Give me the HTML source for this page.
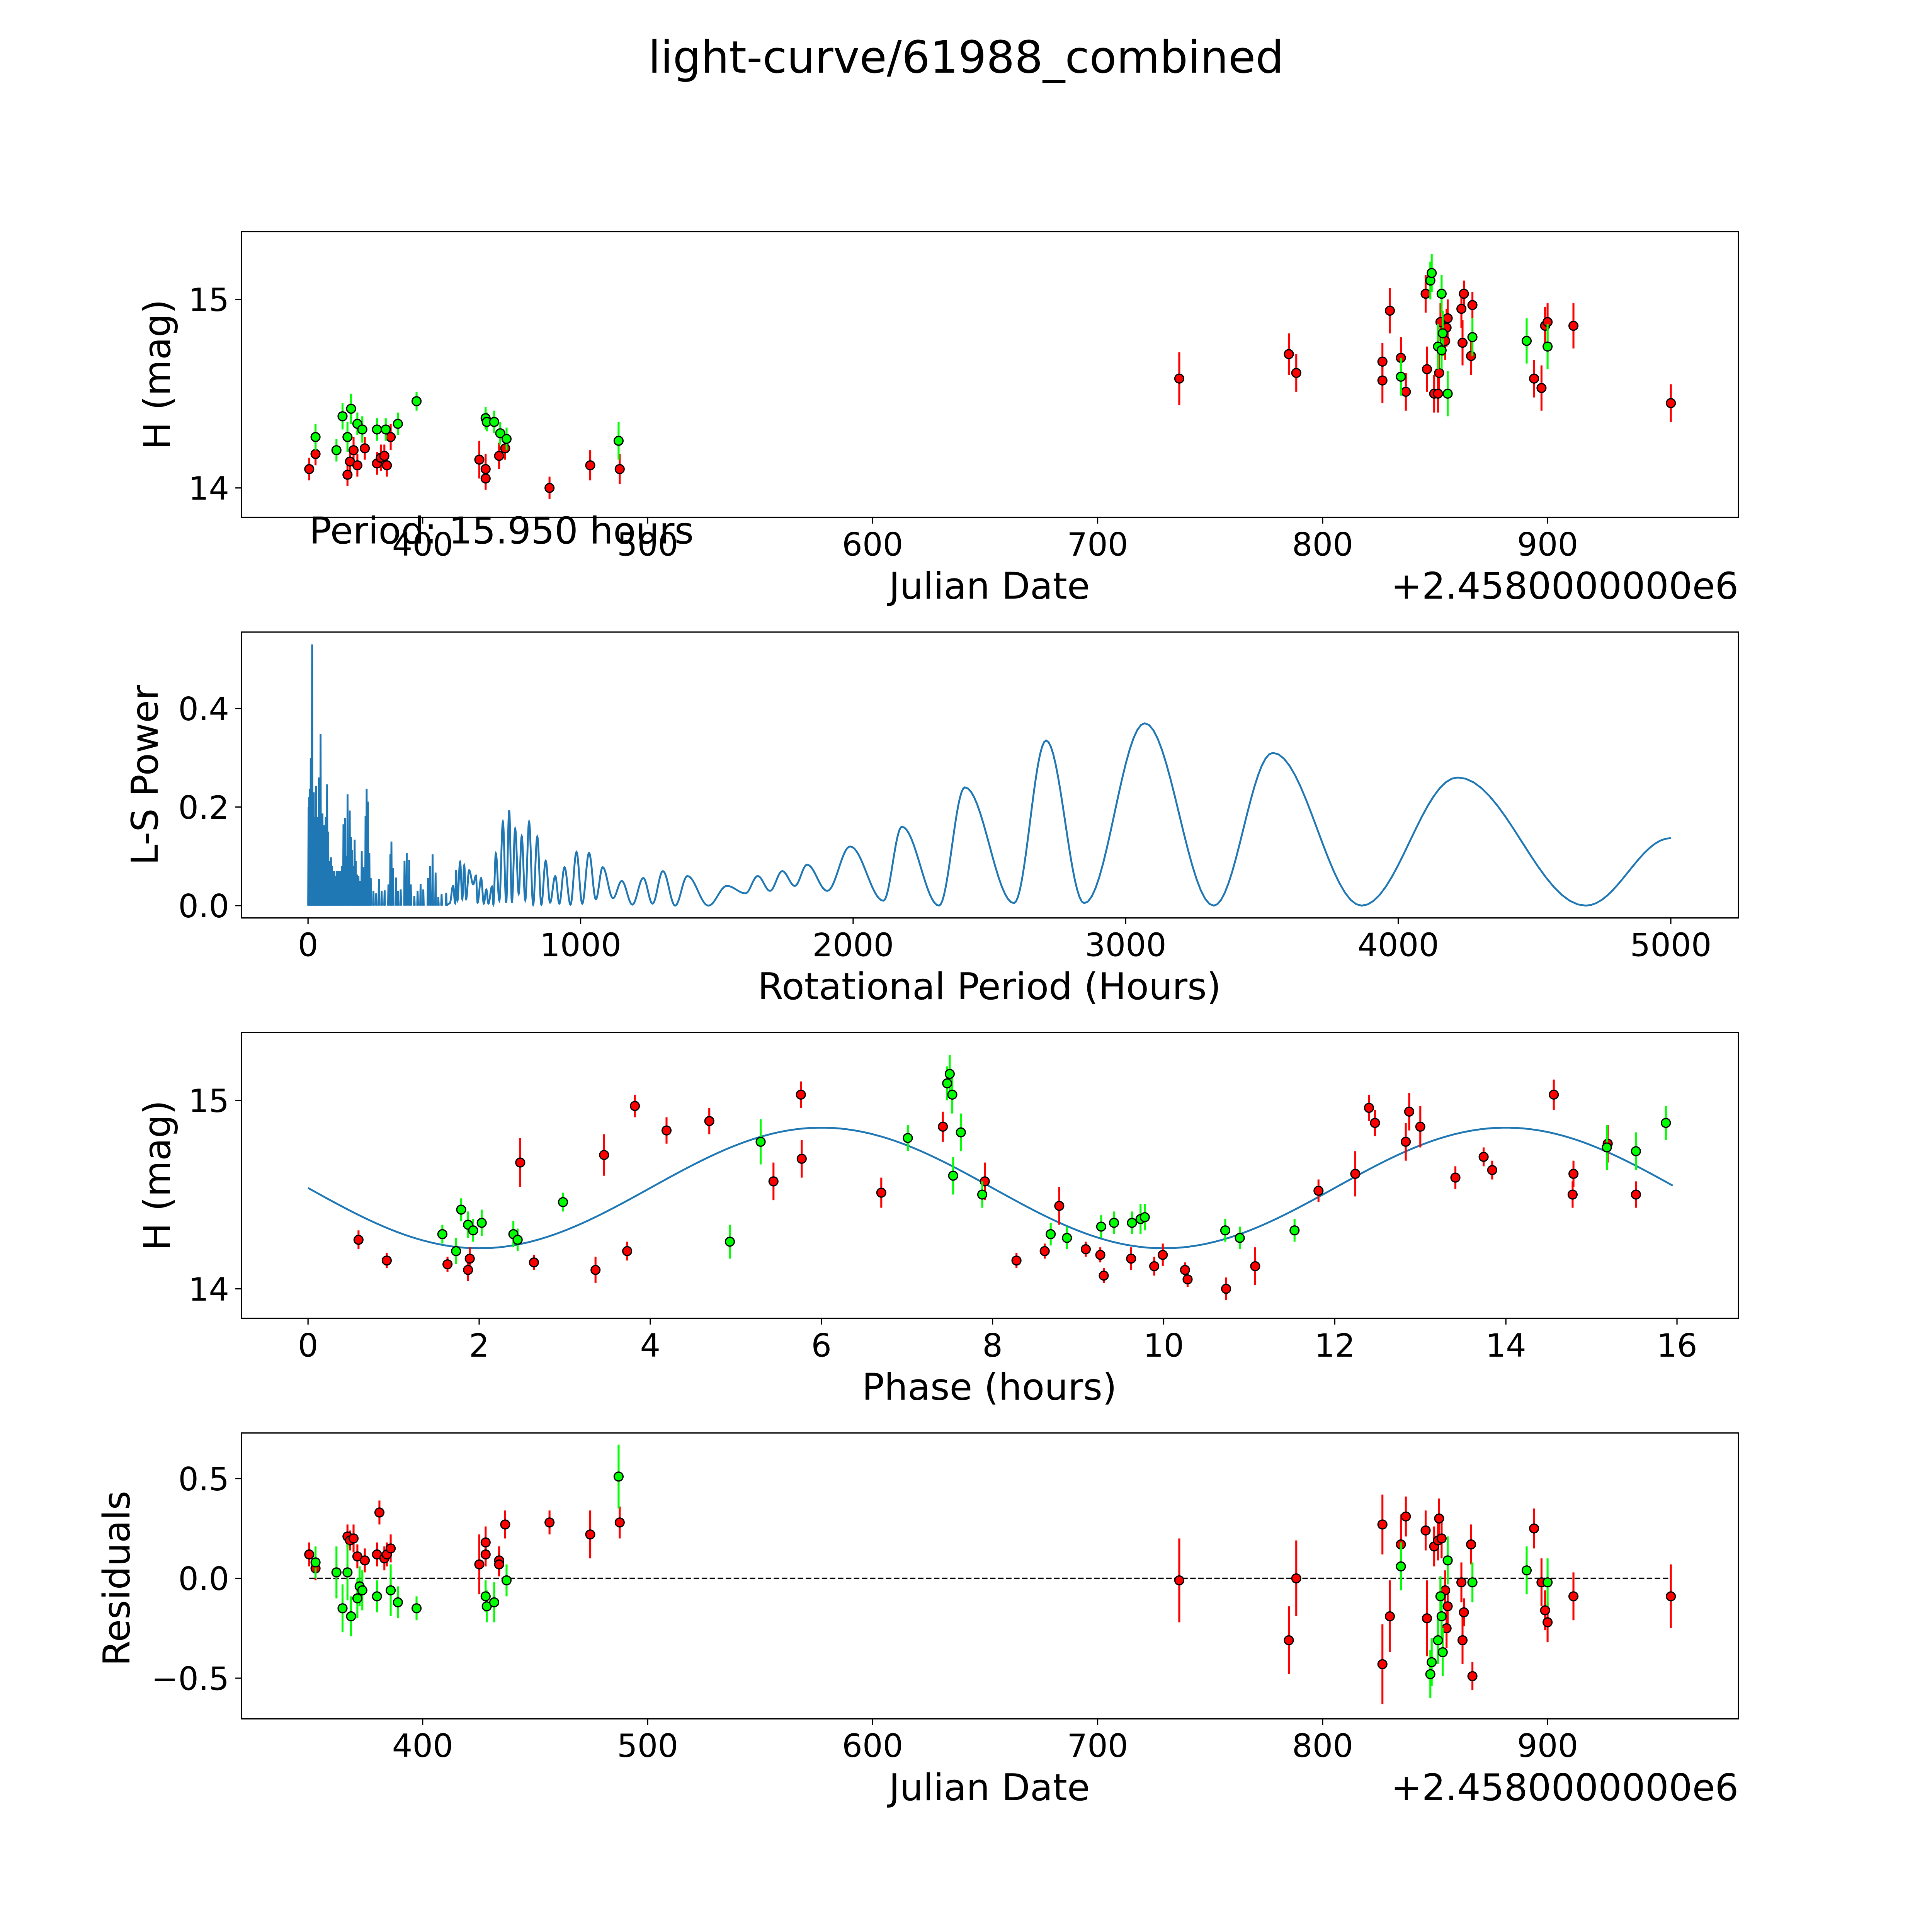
<!DOCTYPE html>
<html><head><meta charset="utf-8"><title>light-curve/61988_combined</title>
<style>html,body{margin:0;padding:0;background:#fff;overflow:hidden;width:100%;height:100%}svg{display:block;width:100vw;height:100vh}text{font-family:"DejaVu Sans","Liberation Sans",sans-serif;fill:#000}</style>
</head><body>
<svg id="chart" xmlns="http://www.w3.org/2000/svg" viewBox="0 0 1568 1568" preserveAspectRatio="none">
<rect x="0" y="0" width="1568" height="1568" fill="#fff"/>
<text x="784" y="59" font-size="36" text-anchor="middle">light-curve/61988_combined</text>
</svg>
<script>
// ---------- DATA ----------
const lcRed = [[349.6,14.10,0.06],[352.4,14.18,0.06],[366.6,14.07,0.06],[367.7,14.14,0.05],[369.3,14.20,0.07],[371,14.12,0.06],[374.3,14.21,0.06],[379.7,14.13,0.06],[381.4,14.16,0.07],[383,14.17,0.06],[384.1,14.12,0.06],[385.8,14.27,0.07],[425.2,14.15,0.1],[428,14.10,0.08],[428,14.05,0.06],[434,14.17,0.07],[436.7,14.21,0.06],[456.4,14.0,0.06],[474.5,14.12,0.08],[487.6,14.10,0.08],[736.3,14.58,0.14],[785,14.71,0.11],[788.3,14.61,0.1],[826.6,14.67,0.1],[826.6,14.57,0.12],[829.9,14.94,0.12],[834.8,14.69,0.11],[837,14.51,0.1],[845.8,15.03,0.1],[846.4,14.63,0.12],[849.6,14.50,0.1],[851.3,14.50,0.1],[851.8,14.61,0.1],[852.4,14.88,0.1],[854.5,14.78,0.1],[855.1,14.85,0.1],[855.6,14.90,0.1],[861.7,14.95,0.1],[862.8,15.03,0.07],[862.2,14.77,0.12],[866,14.70,0.1],[866.6,14.97,0.07],[894,14.58,0.1],[897.3,14.53,0.12],[898.9,14.86,0.1],[900,14.88,0.1],[911.5,14.86,0.12],[954.8,14.45,0.1]];
const lcGreen = [[352.4,14.27,0.07],[361.7,14.20,0.06],[364.4,14.38,0.07],[366.6,14.27,0.08],[368.2,14.42,0.08],[371,14.34,0.06],[373.2,14.31,0.07],[379.7,14.31,0.06],[383.6,14.31,0.06],[389,14.34,0.06],[397.3,14.46,0.05],[428,14.37,0.06],[428.5,14.35,0.05],[431.8,14.35,0.06],[434.5,14.29,0.06],[437.3,14.26,0.06],[487.1,14.25,0.1],[834.8,14.59,0.1],[847.9,15.10,0.1],[848.5,15.14,0.1],[851.3,14.75,0.12],[852.9,15.03,0.1],[853.4,14.82,0.12],[852.9,14.73,0.1],[855.6,14.50,0.12],[866.6,14.80,0.1],[890.7,14.78,0.12],[900,14.75,0.12]];
const periodText = "Period: 15.950 hours";
const lsSpikes = [[2,0.2],[3,0.15],[4,0.22],[5,0.18],[6,0.12],[7,0.237],[8,0.2],[9,0.14],[10,0.30],[11,0.16],[12,0.19],[13,0.12],[15,0.53],[17,0.15],[19,0.2],[21,0.23],[23,0.18],[25,0.13],[27,0.16],[29,0.243],[31,0.14],[33,0.18],[35,0.12],[37,0.15],[40,0.26],[43,0.14],[46,0.348],[49,0.12],[53,0.187],[56,0.1],[59,0.163],[62,0.12],[65,0.18],[68,0.1],[70,0.246],[74,0.15],[78,0.09],[84,0.098],[88,0.08],[92,0.07],[96,0.07],[100,0.06],[105,0.07],[110,0.07],[115,0.06],[118,0.07],[122,0.069],[125,0.08],[130,0.165],[136,0.178],[140,0.1],[145,0.226],[150,0.12],[153,0.193],[158,0.139],[162,0.113],[165,0.08],[171,0.134],[175,0.09],[180,0.063],[185,0.06],[190,0.05],[197,0.111],[203,0.078],[211,0.182],[215,0.237],[220,0.211],[225,0.107],[230,0.056],[240,0.03],[250,0.025],[260,0.054],[270,0.03],[281,0.031],[295,0.043],[302,0.104],[306,0.13],[312,0.076],[323,0.057],[330,0.03],[340,0.033],[354,0.091],[362,0.107],[371,0.093],[377,0.043],[390,0.02],[402,0.03],[413,0.044],[423,0.033],[440,0.056],[448,0.08],[457,0.104],[468,0.067],[478,0.017],[490,0.024],[507,0.026]];
const lsExtrema = [[520,0.005],[532,0.04],[540,0.005],[543,0.072],[548,0.01],[558,0.089],[566,0.013],[573,0.082],[580,0.013],[591,0.072],[606,0.043],[616,0.061],[622,0.006],[635,0.056],[645,0.004],[654,0.033],[662,0.004],[675,0.039],[680,0.002],[689,0.106],[702,0.01],[715,0.17],[727,0.006],[738,0.193],[748,0.006],[760,0.156],[773,0.024],[784,0.141],[797,0.011],[811,0.17],[826,0.002],[841,0.14],[856,0.002],[872,0.091],[888,0.006],[907,0.06],[922,0.004],[941,0.078],[963,0.002],[985,0.109],[1006,0.004],[1031,0.107],[1056,0.013],[1081,0.078],[1119,0.015],[1151,0.05],[1190,0.002],[1230,0.056],[1264,0.004],[1302,0.07],[1347,0.0],[1392,0.06],[1469,0.0],[1537,0.04],[1605,0.025],[1650,0.06],[1695,0.03],[1740,0.07],[1786,0.04],[1831,0.083],[1905,0.03],[1989,0.12],[2111,0.01],[2179,0.16],[2315,0.0],[2410,0.24],[2590,0.005],[2708,0.335],[2848,0.005],[3070,0.37],[3323,0.0],[3540,0.31],[3866,0.0],[4218,0.26],[4688,0.0],[5000,0.137]];
const phRed = [[0.59,14.26,0.05],[0.92,14.15,0.04],[1.63,14.13,0.04],[1.87,14.10,0.06],[1.89,14.16,0.06],[2.48,14.67,0.13],[2.64,14.14,0.04],[3.36,14.10,0.07],[3.46,14.71,0.11],[3.73,14.20,0.05],[3.82,14.97,0.06],[4.19,14.84,0.07],[4.69,14.89,0.07],[5.44,14.57,0.1],[5.76,15.03,0.07],[5.77,14.69,0.1],[6.7,14.51,0.08],[7.42,14.86,0.08],[7.91,14.57,0.1],[8.28,14.15,0.04],[8.61,14.20,0.04],[8.78,14.44,0.1],[9.09,14.21,0.04],[9.26,14.18,0.04],[9.3,14.07,0.04],[9.62,14.16,0.06],[9.89,14.12,0.05],[9.99,14.18,0.06],[10.25,14.10,0.04],[10.28,14.05,0.04],[10.73,14.0,0.06],[11.07,14.12,0.1],[11.81,14.52,0.06],[12.24,14.61,0.12],[12.4,14.96,0.07],[12.47,14.88,0.07],[12.83,14.78,0.1],[12.87,14.94,0.1],[13.0,14.86,0.11],[13.41,14.59,0.06],[13.74,14.70,0.05],[13.84,14.63,0.05],[14.56,15.03,0.08],[14.78,14.50,0.07],[14.79,14.61,0.07],[15.19,14.77,0.1],[15.52,14.50,0.07]];
const phGreen = [[1.57,14.29,0.05],[1.73,14.20,0.07],[1.79,14.42,0.06],[1.87,14.34,0.07],[1.93,14.31,0.06],[2.03,14.35,0.07],[2.4,14.29,0.07],[2.45,14.26,0.06],[2.98,14.46,0.05],[4.93,14.25,0.09],[5.29,14.78,0.12],[7.01,14.80,0.07],[7.47,15.09,0.09],[7.5,15.14,0.1],[7.53,15.03,0.1],[7.54,14.60,0.1],[7.63,14.83,0.1],[7.88,14.50,0.07],[8.68,14.29,0.06],[8.87,14.27,0.06],[9.27,14.33,0.06],[9.42,14.35,0.06],[9.63,14.35,0.06],[9.73,14.37,0.08],[9.78,14.38,0.07],[10.72,14.31,0.06],[10.89,14.27,0.06],[11.53,14.31,0.06],[15.18,14.75,0.12],[15.52,14.73,0.1],[15.87,14.88,0.09]];
const modelMean = 14.535, modelAmp = 0.32, modelHalfPeriod = 8, modelPhase0 = 4, modelMaxPhase = 15.95;
const resRed = [[349.6,0.12,0.06],[352.4,0.05,0.06],[366.6,0.21,0.06],[367.7,0.19,0.05],[369.3,0.2,0.07],[371,0.11,0.06],[374.3,0.09,0.06],[379.7,0.12,0.06],[380.8,0.33,0.06],[383,0.1,0.06],[384.1,0.12,0.06],[385.8,0.15,0.07],[425.2,0.07,0.15],[428,0.18,0.08],[428,0.12,0.06],[434,0.09,0.07],[434,0.07,0.06],[436.7,0.27,0.07],[456.4,0.28,0.06],[474.5,0.22,0.12],[487.6,0.28,0.08],[736.3,-0.01,0.21],[785,-0.31,0.17],[788.3,0.0,0.19],[826.6,0.27,0.15],[826.6,-0.43,0.2],[829.9,-0.19,0.18],[834.8,0.17,0.15],[837,0.31,0.1],[845.8,0.24,0.1],[846.4,-0.2,0.19],[849.6,0.16,0.1],[851.3,0.19,0.1],[851.8,0.3,0.1],[852.4,-0.09,0.1],[852.9,0.2,0.1],[854.5,-0.06,0.1],[855.1,-0.25,0.1],[855.6,-0.14,0.1],[861.7,-0.02,0.1],[862.8,-0.17,0.07],[862.2,-0.31,0.12],[866,0.17,0.1],[866.6,-0.49,0.07],[894,0.25,0.1],[897.3,-0.02,0.12],[898.9,-0.16,0.1],[900,-0.22,0.1],[911.5,-0.09,0.12],[954.8,-0.09,0.16]];
const resGreen = [[352.4,0.08,0.08],[361.7,0.03,0.13],[364.4,-0.15,0.12],[366.6,0.03,0.14],[368.2,-0.19,0.1],[371,-0.1,0.1],[372,-0.04,0.1],[373.2,-0.06,0.1],[379.7,-0.09,0.08],[385.8,-0.06,0.13],[389,-0.12,0.08],[397.3,-0.15,0.06],[428,-0.09,0.08],[428.5,-0.14,0.08],[431.8,-0.12,0.1],[437.3,-0.01,0.08],[487.1,0.51,0.16],[834.8,0.06,0.12],[847.9,-0.48,0.12],[848.5,-0.42,0.12],[851.3,-0.31,0.12],[852.4,-0.09,0.1],[852.9,-0.19,0.12],[853.4,-0.37,0.12],[855.6,0.09,0.12],[866.6,-0.02,0.1],[890.7,0.04,0.12],[900,-0.02,0.12]];
const jdTicks = [400,500,600,700,800,900];
const lsXTicks = [0,1000,2000,3000,4000,5000];
const lsYTicks = [0,0.2,0.4];
const lsYTickLabels = ["0.0","0.2","0.4"];
const magTicks = [14,15];
const phTicks = [0,2,4,6,8,10,12,14,16];
const resTicks = [-0.5,0,0.5];
const resTickLabels = ["\u22120.5","0.0","0.5"];

// ---------- AXES ----------
const xJD = v => 343 + (v - 400) * 1.826;
const yMag1 = m => 243 + (15 - m) * 153;
const xLS = p => 250 + p * 0.2212;
const yLS = w => 735 - w * 400;
const xPh = t => 250 + t * 69.44;
const yMag3 = m => 893 + (15 - m) * 153;
const yRes = r => 1281 - r * 162;

const svg = document.getElementById('chart');
const NS = 'http://www.w3.org/2000/svg';
function mk(tag, attrs, parent) {
  const e = document.createElementNS(NS, tag);
  for (const k in attrs) e.setAttribute(k, attrs[k]);
  (parent || svg).appendChild(e);
  return e;
}
function group(name) {
  const g = mk('g', {});
  
  
  return g;
}
function frame(name, y0, y1) {
  const r = mk('rect', {x:196, y:y0, width:1215, height:y1-y0, fill:'none', stroke:'#000', 'stroke-width':1});
  
  
}
function xTicks(name, vals, labels, fx, yb) {
  const g = group(name);
  vals.forEach((v, i) => {
    const x = fx(v);
    mk('line', {x1:x, y1:yb, x2:x, y2:yb+5, stroke:'#000', 'stroke-width':1}, g);
    const t = mk('text', {x:x, y:yb+31, 'font-size':26, 'text-anchor':'middle'}, g);
    t.textContent = labels[i];
    
    
  });
}
function yTicks(name, vals, labels, fy) {
  const g = group(name);
  vals.forEach((v, i) => {
    const y = fy(v);
    mk('line', {x1:191, y1:y, x2:196, y2:y, stroke:'#000', 'stroke-width':1}, g);
    const t = mk('text', {x:186, y:y+9.5, 'font-size':26, 'text-anchor':'end'}, g);
    t.textContent = labels[i];
    
    
  });
}
function label(name, txt, x, y, rot, anchor) {
  const t = mk('text', {x:x, y:y, 'font-size':30, 'text-anchor':anchor || 'middle'});
  if (rot) t.setAttribute('transform', 'rotate(-90 ' + x + ' ' + y + ')');
  t.textContent = txt;
  
  
}
function points(name, data, fx, fy, color) {
  const g = group(name);
  data.forEach(d => {
    const x = fx(d[0]);
    const l = mk('line', {x1:x, y1:fy(d[1]-d[2]), x2:x, y2:fy(d[1]+d[2]), stroke:color, 'stroke-width':1.6}, g);
    
    
  });
  data.forEach(d => {
    const c = mk('circle', {cx:fx(d[0]), cy:fy(d[1]), r:3.6, fill:color, stroke:'#000', 'stroke-width':1}, g);
    
    
  });
}

// ---------- PANEL 1 ----------
frame('lightcurve-plot-frame', 188, 420);
xTicks('lightcurve-x-ticks', jdTicks, jdTicks.map(String), xJD, 420);
yTicks('lightcurve-y-ticks', magTicks, magTicks.map(String), yMag1);
points('lightcurve-red-series', lcRed, xJD, yMag1, '#ff0000');
points('lightcurve-green-series', lcGreen, xJD, yMag1, '#00ff00');
label('lightcurve-x-axis-title', 'Julian Date', 803, 486);
label('lightcurve-x-offset', '+2.4580000000e6', 1411, 486, false, 'end');
label('lightcurve-y-axis-title', 'H (mag)', 138, 304, true);
label('period-annotation', periodText, 251, 441, false, 'start');

// ---------- PANEL 2 ----------
frame('periodogram-plot-frame', 513, 745);
xTicks('periodogram-x-ticks', lsXTicks, lsXTicks.map(String), xLS, 745);
yTicks('periodogram-y-ticks', lsYTicks, lsYTickLabels, yLS);
(function(){
  let d = '';
  lsSpikes.forEach(s => {
    d += 'M' + xLS(s[0]-1.5) + ' ' + yLS(0) + 'L' + xLS(s[0]) + ' ' + yLS(s[1]) + 'L' + xLS(s[0]+1.5) + ' ' + yLS(0);
  });
  const p = mk('path', {d:d, fill:'#1f77b4', stroke:'#1f77b4', 'stroke-width':1.5, 'stroke-linejoin':'miter'});
  
  
  const b = mk('rect', {x:xLS(0), y:yLS(0.04), width:xLS(230)-xLS(0), height:yLS(0)-yLS(0.04), fill:'#1f77b4'});
  
  
  let pts = [[xLS(507), yLS(0.0)]];
  for (let i = 0; i < lsExtrema.length - 1; i++) {
    const a = lsExtrema[i], c = lsExtrema[i+1];
    const n = 16;
    for (let k = 0; k < n; k++) {
      const s = k / n;
      const per = a[0] + (c[0]-a[0]) * s;
      const w = a[1] + (c[1]-a[1]) * (1 - Math.cos(Math.PI * s)) / 2;
      pts.push([xLS(per), yLS(w)]);
    }
  }
  const last = lsExtrema[lsExtrema.length-1];
  pts.push([xLS(last[0]), yLS(last[1])]);
  const line = mk('polyline', {points:pts.map(q => q[0].toFixed(2)+','+q[1].toFixed(2)).join(' '), fill:'none', stroke:'#1f77b4', 'stroke-width':1.5});
  
  
})();
label('periodogram-x-axis-title', 'Rotational Period (Hours)', 803, 811);
label('periodogram-y-axis-title', 'L-S Power', 128, 629, true);

// ---------- PANEL 3 ----------
frame('phase-plot-frame', 838, 1070);
xTicks('phase-x-ticks', phTicks, phTicks.map(String), xPh, 1070);
yTicks('phase-y-ticks', magTicks, magTicks.map(String), yMag3);
(function(){
  const pts = [];
  for (let i = 0; i <= 200; i++) {
    const t = modelMaxPhase * i / 200;
    const m = modelMean + modelAmp * Math.sin(2 * Math.PI * (t - modelPhase0) / modelHalfPeriod);
    pts.push(xPh(t).toFixed(2) + ',' + yMag3(m).toFixed(2));
  }
  const l = mk('polyline', {points:pts.join(' '), fill:'none', stroke:'#1f77b4', 'stroke-width':1.5});
  
  
})();
points('phase-red-series', phRed, xPh, yMag3, '#ff0000');
points('phase-green-series', phGreen, xPh, yMag3, '#00ff00');
label('phase-x-axis-title', 'Phase (hours)', 803, 1136);
label('phase-y-axis-title', 'H (mag)', 138, 954, true);

// ---------- PANEL 4 ----------
frame('residuals-plot-frame', 1163, 1395);
xTicks('residuals-x-ticks', jdTicks, jdTicks.map(String), xJD, 1395);
yTicks('residuals-y-ticks', resTicks, resTickLabels, yRes);
(function(){
  const l = mk('line', {x1:xJD(349.6), y1:yRes(0), x2:xJD(954.8), y2:yRes(0), stroke:'#000', 'stroke-width':1.2, 'stroke-dasharray':'4.5,2'});
  
  
})();
points('residuals-red-series', resRed, xJD, yRes, '#ff0000');
points('residuals-green-series', resGreen, xJD, yRes, '#00ff00');
label('residuals-x-axis-title', 'Julian Date', 803, 1461);
label('residuals-x-offset', '+2.4580000000e6', 1411, 1461, false, 'end');
label('residuals-y-axis-title', 'Residuals', 105, 1281, true);
</script>
</body></html>
